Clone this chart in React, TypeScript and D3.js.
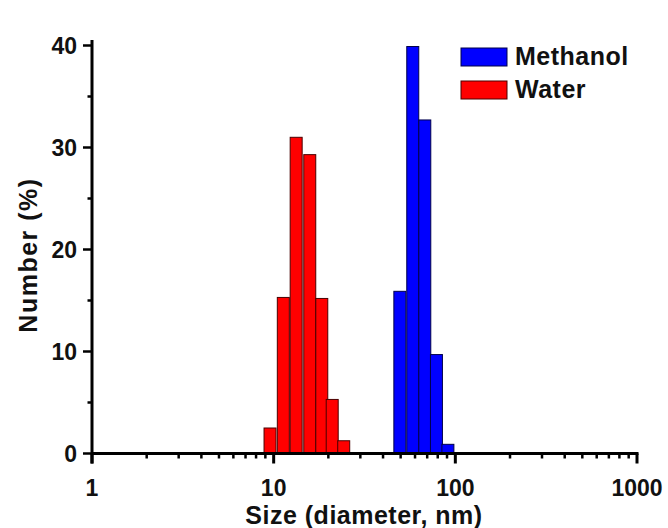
import React from "react";
import * as d3 from "d3";

// Bin centre sizes (nm) and number percentages
const waterSizes = [9.55, 11.3, 13.3, 15.8, 18.4, 21.0, 24.3];
const waterValues = [2.5, 15.3, 31.0, 29.3, 15.2, 5.3, 1.25];
const methanolSizes = [49.5, 58.3, 67.9, 78.7, 91.0];
const methanolValues = [15.9, 39.9, 32.7, 9.7, 0.9];

const xMajorTicks = [1, 10, 100, 1000];
const yMajorTicks = [0, 10, 20, 30, 40];
const yMinorTicks = [5, 15, 25, 35];
const legendLabels = ["Methanol", "Water"];

const W = 668;
const H = 528;
const FONT = "'Liberation Sans', Arial, Helvetica, sans-serif";

export default function App() {
  const x = d3.scaleLog().domain([1, 1000]).range([92, 637]);
  const y = d3.scaleLinear().domain([0, 40]).range([453.5, 45.5]);
  const halfW = 0.033; // half bar width in log10 units

  const xMinor: number[] = [];
  [1, 10, 100].forEach((dec) => {
    for (let k = 2; k <= 9; k++) xMinor.push(dec * k);
  });

  const bars = (sizes: number[], vals: number[], fill: string, stroke: string, key: string) =>
    sizes.map((s, i) => {
      const x0 = x(s / Math.pow(10, halfW));
      const x1 = x(s * Math.pow(10, halfW));
      return (
        <rect
          key={key + i}
          x={x0}
          y={y(vals[i])}
          width={x1 - x0}
          height={y(0) - y(vals[i])}
          fill={fill}
          stroke={stroke}
          strokeWidth={1}
        />
      );
    });

  const colors = ["#0000ff", "#ff0000"];
  const strokes = ["#00004a", "#4a0000"];

  return (
    <svg
      width={W}
      height={H}
      style={{ position: "absolute", left: 0, top: 0, background: "#fff" }}
      fontFamily={FONT}
      fontWeight="bold"
    >
      {/* bars */}
      {bars(waterSizes, waterValues, colors[1], strokes[1], "w")}
      {bars(methanolSizes, methanolValues, colors[0], strokes[0], "m")}

      {/* axes */}
      <line x1={92} x2={92} y1={40} y2={y(0) + 10} stroke="#000" strokeWidth={3} />
      <line x1={92} x2={x(1000) + 1.5} y1={y(0)} y2={y(0)} stroke="#000" strokeWidth={3} />

      {/* y ticks */}
      {yMajorTicks.map((t) => (
        <g key={"ym" + t}>
          <line x1={83} x2={92} y1={y(t)} y2={y(t)} stroke="#000" strokeWidth={2.5} />
          <text x={77} y={y(t)} dy="0.36em" textAnchor="end" fontSize={23} fill="#111">
            {t}
          </text>
        </g>
      ))}
      {yMinorTicks.map((t) => (
        <line key={"yn" + t} x1={87.5} x2={92} y1={y(t)} y2={y(t)} stroke="#000" strokeWidth={2.5} />
      ))}

      {/* x ticks */}
      {xMajorTicks.map((t) => (
        <g key={"xm" + t}>
          <line x1={x(t)} x2={x(t)} y1={y(0)} y2={y(0) + 10} stroke="#000" strokeWidth={3} />
          <text x={x(t)} y={496} textAnchor="middle" fontSize={23} fill="#111">
            {t}
          </text>
        </g>
      ))}
      {xMinor.map((t) => (
        <line key={"xn" + t} x1={x(t)} x2={x(t)} y1={y(0)} y2={y(0) + 5} stroke="#000" strokeWidth={2.5} />
      ))}

      {/* axis titles */}
      <text x={364} y={524} textAnchor="middle" fontSize={25} letterSpacing={0.5} fill="#111">
        Size (diameter, nm)
      </text>
      <text
        transform={`translate(37,255) rotate(-90)`}
        textAnchor="middle"
        fontSize={25}
        letterSpacing={1.5}
        fill="#111"
      >
        Number (%)
      </text>

      {/* legend */}
      {legendLabels.map((l, i) => (
        <g key={l} transform={`translate(461,${48 + i * 33})`}>
          <rect x={0} y={0} width={46} height={18} fill={colors[i]} stroke={strokes[i]} strokeWidth={1} />
          <text x={54} y={17} fontSize={25} letterSpacing={0.5} fill="#111">
            {l}
          </text>
        </g>
      ))}
    </svg>
  );
}
